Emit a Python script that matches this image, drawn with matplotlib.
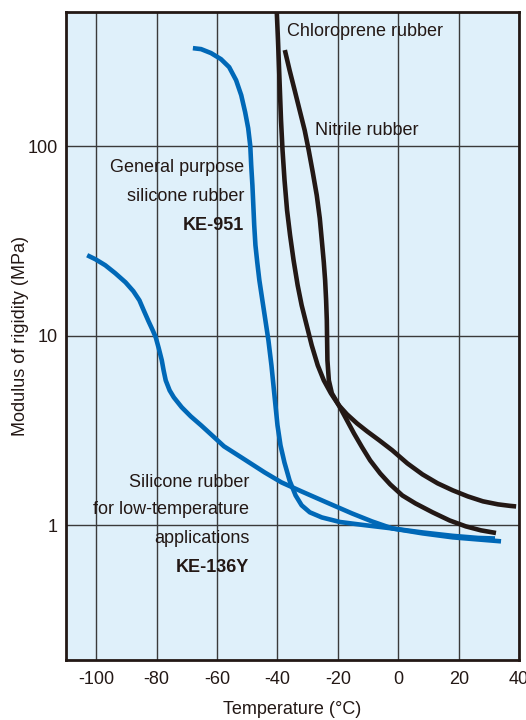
import numpy as np
import matplotlib
matplotlib.use("Agg")
import matplotlib.pyplot as plt
from matplotlib.ticker import FixedLocator, NullLocator, FixedFormatter

plt.rcParams['font.family'] = ['Liberation Sans', 'DejaVu Sans']
plt.rcParams['axes.unicode_minus'] = False

# Curves: temperature (°C) and log10 of modulus (MPa)
ke951_t = [-68.0, -65.3, -62.0, -58.7, -56.0, -53.7, -52.0, -50.7, -49.7, -49.0,
           -48.7, -48.3, -48.0, -47.7, -47.3, -46.7, -46.0, -45.0, -44.0, -43.0,
           -42.0, -41.0, -40.0, -39.0, -37.7, -36.0, -34.0, -32.0, -29.3, -25.3,
           -19.3, -12.0, -2.0, 8.0, 18.0, 26.3, 32.0]
ke951_log = [2.517, 2.512, 2.491, 2.459, 2.417, 2.348, 2.269, 2.179, 2.095, 2.0,
             1.900, 1.794, 1.689, 1.583, 1.478, 1.388, 1.293, 1.187, 1.082, 0.976,
             0.844, 0.686, 0.528, 0.422, 0.332, 0.237, 0.158, 0.106, 0.069, 0.042,
             0.018, 0.003, -0.016, -0.037, -0.055, -0.066, -0.069]

ke136y_t = [-103.0, -100.3, -97.0, -93.7, -90.3, -87.7, -85.7, -84.3, -82.7, -81.3,
            -80.3, -79.3, -78.3, -77.7, -77.0, -75.7, -74.3, -71.7, -68.7, -65.3,
            -62.0, -57.7, -52.0, -44.3, -38.7, -32.0, -23.7, -15.3, -8.7, -2.0,
            8.0, 18.0, 26.3, 34.0]
ke136y_log = [1.425, 1.404, 1.372, 1.330, 1.282, 1.235, 1.187, 1.135, 1.077, 1.029,
              0.992, 0.934, 0.871, 0.818, 0.765, 0.712, 0.675, 0.623, 0.575, 0.528,
              0.480, 0.417, 0.359, 0.280, 0.227, 0.179, 0.121, 0.063, 0.021, -0.016,
              -0.042, -0.063, -0.074, -0.084]

chloro_t = [-40.33, -39.83, -39.33, -38.83, -38.33, -37.67, -36.83, -35.83, -34.67, -33.33,
            -32.0, -30.33, -28.67, -26.67, -24.67, -22.33, -19.67, -17.0, -14.67, -12.0,
            -9.33, -6.0, -2.67, 1.33, 5.67, 11.33, 17.0, 22.33, 27.33, 32.33]
chloro_log = [2.744, 2.559, 2.348, 2.137, 1.979, 1.821, 1.662, 1.530, 1.398, 1.267,
              1.161, 1.055, 0.950, 0.844, 0.765, 0.697, 0.633, 0.554, 0.485, 0.412,
              0.343, 0.274, 0.216, 0.158, 0.116, 0.069, 0.026, -0.005, -0.026, -0.040]

nitrile_t = [-37.57, -36.0, -34.33, -32.67, -31.0, -29.67, -28.33, -27.0, -26.0, -25.33,
             -24.67, -24.23, -23.9, -23.67, -23.57, -23.47, -23.0, -22.0, -19.67, -17.0,
             -13.67, -10.33, -6.33, -2.0, 3.0, 8.0, 13.0, 18.0, 23.0, 28.0,
             33.0, 37.0, 39.0]
nitrile_log = [2.507, 2.401, 2.296, 2.190, 2.084, 1.979, 1.863, 1.741, 1.620, 1.504,
               1.388, 1.293, 1.187, 1.082, 0.976, 0.871, 0.765, 0.697, 0.633, 0.586,
               0.538, 0.496, 0.449, 0.396, 0.327, 0.269, 0.222, 0.185, 0.153, 0.127,
               0.111, 0.103, 0.100]

x_ticks = [-100, -80, -60, -40, -20, 0, 20, 40]
y_ticks = [1, 10, 100]
y_labels = ["1", "10", "100"]

blue = "#0068b7"
black = "#231815"
bg = "#dff0fa"

fig = plt.figure(figsize=(5.26, 7.2), dpi=100)
ax = fig.add_axes([0.1255, 0.0833, 0.8615, 0.9])
ax.set_facecolor(bg)

# curves
lw = 3.3
ax.plot(chloro_t, 10 ** np.array(chloro_log), color=black, lw=lw, solid_capstyle="butt", zorder=3)
ax.plot(nitrile_t, 10 ** np.array(nitrile_log), color=black, lw=lw, solid_capstyle="butt", zorder=3)
ax.plot(ke951_t, 10 ** np.array(ke951_log), color=blue, lw=lw, solid_capstyle="butt", zorder=4)
ax.plot(ke136y_t, 10 ** np.array(ke136y_log), color=blue, lw=lw, solid_capstyle="butt", zorder=4)

ax.set_yscale("log")
ax.set_xlim(-110, 40)
ax.set_ylim(0.195, 510)
ax.xaxis.set_major_locator(FixedLocator(x_ticks))
ax.yaxis.set_major_locator(FixedLocator(y_ticks))
ax.yaxis.set_major_formatter(FixedFormatter(y_labels))
ax.yaxis.set_minor_locator(NullLocator())
ax.grid(True, color="#3a3a3a", lw=1.0, zorder=1)
ax.set_axisbelow(True)
ax.tick_params(length=0, labelsize=13, colors=black)
ax.tick_params(axis="x", pad=8)
ax.tick_params(axis="y", pad=6)
for s in ax.spines.values():
    s.set_linewidth(2.0)
    s.set_color(black)

ax.set_xlabel("Temperature (°C)", fontsize=13, color=black, labelpad=9)
ax.set_ylabel("Modulus of rigidity (MPa)", fontsize=13, color=black, labelpad=-1)

# labels on the chart
fs = 13
ax.text(-37, 404, "Chloroprene rubber", fontsize=fs, color=black, ha="left", va="center")
ax.text(-27.7, 121, "Nitrile rubber", fontsize=fs, color=black, ha="left", va="center")
ax.text(-51, 77.5, "General purpose", fontsize=fs, color=black, ha="right", va="center")
ax.text(-51, 54.5, "silicone rubber", fontsize=fs, color=black, ha="right", va="center")
ax.text(-51, 38.3, "KE-951", fontsize=fs, color=black, ha="right", va="center", fontweight="bold")
ax.text(-49.3, 1.69, "Silicone rubber", fontsize=fs, color=black, ha="right", va="center")
ax.text(-49.3, 1.215, "for low-temperature", fontsize=fs, color=black, ha="right", va="center")
ax.text(-49.3, 0.854, "applications", fontsize=fs, color=black, ha="right", va="center")
ax.text(-49.3, 0.602, "KE-136Y", fontsize=fs, color=black, ha="right", va="center", fontweight="bold")

fig.savefig("out.png", dpi=100)
